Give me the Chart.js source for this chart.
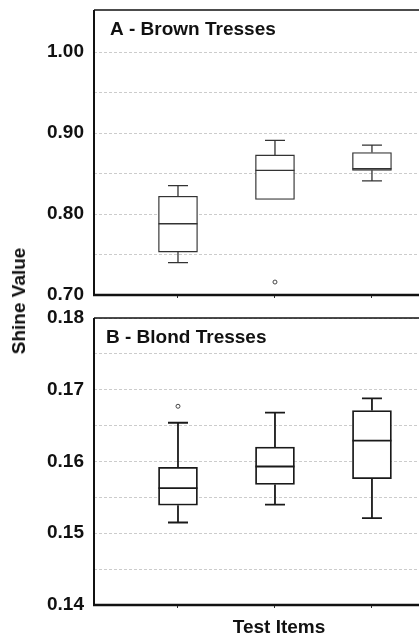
<!DOCTYPE html>
<html>
<head>
<meta charset="utf-8">
<script src="https://cdn.jsdelivr.net/npm/chart.js@4/dist/chart.umd.min.js"></script>
<style>
  html, body { margin: 0; padding: 0; background: #fff; }
  body { width: 419px; height: 636px; position: relative; overflow: hidden; font-family: "Liberation Sans", Arial, sans-serif; }
  /* plot runs off the right edge, as in the cropped original */
  .wrap { position: absolute; left: 0; width: 424px; }
  #wrapA { top: 0; height: 310px; }
  #wrapB { top: 305px; height: 331px; }
  .lbl { position: absolute; font-weight: bold; font-size: 19px; color: #111; white-space: nowrap; }
  #ylab { left: 19px; top: 301px; transform: translate(-50%, -50%) rotate(-90deg); }
  #xlab { left: 279px; top: 616px; transform: translateX(-50%); }
</style>
</head>
<body>
<div class="wrap" id="wrapA"><canvas id="chartA"></canvas></div>
<div class="wrap" id="wrapB"><canvas id="chartB"></canvas></div>
<div class="lbl" id="ylab">Shine Value</div>
<div class="lbl" id="xlab">Test Items</div>
<script>
// test item positions
const items = [1, 2, 3];

// A - Brown Tresses
const brownMin = [0.740, 0.818, 0.841];
const brownQ1 = [0.753, 0.818, 0.854];
const brownMed = [0.788, 0.854, 0.856];
const brownQ3 = [0.822, 0.873, 0.876];
const brownMax = [0.835, 0.891, 0.885];
const brownOutliers = [{ x: 2, y: 0.716 }];
const brownTicks = [0.70, 0.80, 0.90, 1.00];

// B - Blond Tresses
const blondMin = [0.1515, 0.1540, 0.1521];
const blondQ1 = [0.1539, 0.1568, 0.1576];
const blondMed = [0.1563, 0.1593, 0.1629];
const blondQ3 = [0.1592, 0.1620, 0.1671];
const blondMax = [0.1654, 0.1668, 0.1688];
const blondOutliers = [{ x: 1, y: 0.1677 }];
const blondTicks = [0.14, 0.15, 0.16, 0.17, 0.18];

Chart.defaults.font.family = '"Liberation Sans", Arial, sans-serif';
Chart.defaults.color = '#111';

// whiskers, medians, frame and panel title
const boxExtras = {
  id: 'boxExtras',
  afterDatasetsDraw(chart, args, o) {
    const ctx = chart.ctx;
    const xs = chart.scales.x, ys = chart.scales.y;
    ctx.save();
    ctx.strokeStyle = o.color;
    ctx.lineWidth = o.lineWidth;
    items.forEach((it, i) => {
      const cx = xs.getPixelForValue(it);
      const half = o.boxWidth / 2, cap = o.capWidth / 2;
      const yMin = ys.getPixelForValue(o.min[i]);
      const yQ1 = ys.getPixelForValue(o.q1[i]);
      const yMed = ys.getPixelForValue(o.med[i]);
      const yQ3 = ys.getPixelForValue(o.q3[i]);
      const yMax = ys.getPixelForValue(o.max[i]);
      ctx.beginPath();
      ctx.moveTo(cx, yQ3); ctx.lineTo(cx, yMax);
      ctx.moveTo(cx - cap, yMax); ctx.lineTo(cx + cap, yMax);
      if (yMin - yQ1 > 0.5) {
        ctx.moveTo(cx, yQ1); ctx.lineTo(cx, yMin);
        ctx.moveTo(cx - cap, yMin); ctx.lineTo(cx + cap, yMin);
      }
      ctx.moveTo(cx - half, yMed); ctx.lineTo(cx + half, yMed);
      ctx.stroke();
    });
    const a = chart.chartArea;
    ctx.strokeStyle = '#111';
    ctx.lineWidth = 1.5;
    ctx.beginPath(); ctx.moveTo(a.left, a.top); ctx.lineTo(chart.width + 2, a.top); ctx.stroke();
    ctx.lineWidth = 2;
    ctx.beginPath(); ctx.moveTo(a.left, a.top); ctx.lineTo(a.left, a.bottom); ctx.stroke();
    ctx.lineWidth = 2.5;
    ctx.beginPath(); ctx.moveTo(a.left - 1, a.bottom); ctx.lineTo(chart.width + 2, a.bottom); ctx.stroke();
    ctx.fillStyle = '#111';
    ctx.font = 'bold 19px "Liberation Sans", Arial, sans-serif';
    ctx.textBaseline = 'alphabetic';
    ctx.fillText(o.title, a.left + o.titleDx, a.top + o.titleDy);
    ctx.restore();
  }
};

function makeChart(id, s) {
  return new Chart(document.getElementById(id), {
    type: 'bar',
    data: {
      datasets: [
        {
          data: items.map((x, i) => ({ x: x, y: [s.q1[i], s.q3[i]] })),
          backgroundColor: '#fff',
          borderColor: s.color,
          borderWidth: s.lineWidth,
          borderSkipped: false,
          barThickness: 39,
        },
        {
          type: 'scatter',
          data: s.outliers,
          pointStyle: 'circle',
          pointRadius: 2,
          pointBackgroundColor: '#fff',
          pointBorderColor: '#444',
          pointBorderWidth: 1,
        },
      ],
    },
    plugins: [boxExtras],
    options: {
      responsive: true,
      maintainAspectRatio: false,
      animation: false,
      layout: { padding: { top: s.padTop, right: 0, bottom: 0, left: 0 } },
      scales: {
        x: {
          type: 'linear',
          offset: false,
          min: 0.134,
          max: 3.485,
          afterBuildTicks: sc => { sc.ticks = items.map(v => ({ value: v })); },
          afterFit: sc => {
            sc.height = s.xHeight;
            sc.paddingLeft = 0; sc.paddingRight = 0; sc.paddingTop = 0; sc.paddingBottom = 0;
          },
          ticks: { display: false },
          grid: { offset: false, drawOnChartArea: false, drawTicks: true, tickLength: 3, color: '#333' },
          border: { display: false },
        },
        y: {
          min: s.yMin,
          max: s.yMax,
          afterBuildTicks: sc => {
            const t = [];
            for (let k = 0; s.yMin + k * s.step <= s.yMax + 1e-9; k++) {
              const v = +(s.yMin + k * s.step).toFixed(4);
              const gap = s.yMax - v;
              if (gap < 1e-9 || gap > s.step * 0.2) t.push({ value: v });
            }
            sc.ticks = t;
          },
          afterFit: sc => {
            sc.width = 94;
            sc.paddingLeft = 0; sc.paddingRight = 0; sc.paddingTop = 0; sc.paddingBottom = 0;
          },
          ticks: {
            padding: 10,
            font: { size: 19, weight: 'bold' },
            color: '#111',
            callback: v => s.labels.some(l => Math.abs(l - v) < 1e-6) ? v.toFixed(2) : '',
          },
          grid: { color: '#cccccc', lineWidth: 1, drawTicks: false },
          border: { display: false, dash: [3, 2] },
        },
      },
      plugins: {
        legend: { display: false },
        tooltip: { enabled: false },
        boxExtras: {
          min: s.min, q1: s.q1, med: s.med, q3: s.q3, max: s.max,
          boxWidth: 39, capWidth: 20,
          color: s.color, lineWidth: s.lineWidth,
          title: s.title, titleDx: s.titleDx, titleDy: s.titleDy,
        },
      },
    },
  });
}

makeChart('chartA', {
  min: brownMin, q1: brownQ1, med: brownMed, q3: brownQ3, max: brownMax,
  outliers: brownOutliers, labels: brownTicks,
  yMin: 0.70, yMax: 1.052, step: 0.05,
  padTop: 10, xHeight: 15,
  color: '#333', lineWidth: 1.3,
  title: 'A - Brown Tresses', titleDx: 16, titleDy: 25,
});

makeChart('chartB', {
  min: blondMin, q1: blondQ1, med: blondMed, q3: blondQ3, max: blondMax,
  outliers: blondOutliers, labels: blondTicks,
  yMin: 0.14, yMax: 0.18, step: 0.005,
  padTop: 13, xHeight: 31,
  color: '#1a1a1a', lineWidth: 1.8,
  title: 'B - Blond Tresses', titleDx: 12, titleDy: 25,
});
</script>
</body>
</html>
